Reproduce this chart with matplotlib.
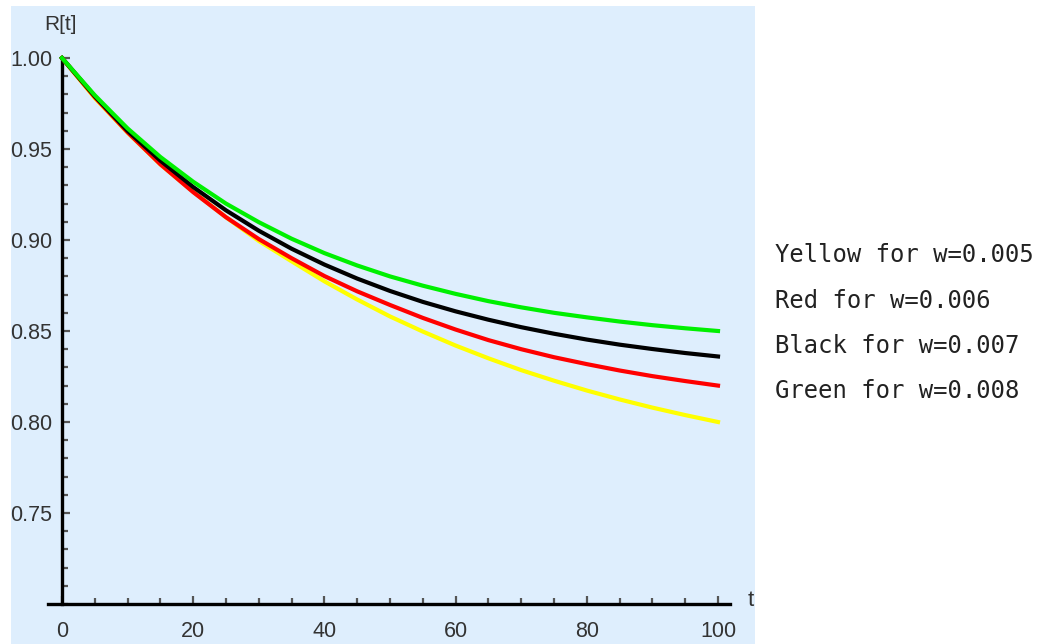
import matplotlib
matplotlib.use("Agg")
import matplotlib.pyplot as plt
import matplotlib.patches as mpatches
from matplotlib.ticker import MultipleLocator, FormatStrFormatter

# values, t = 0, 5, ..., 100
t_vals = [0, 5, 10, 15, 20, 25, 30, 35, 40, 45, 50, 55, 60, 65, 70, 75, 80, 85, 90, 95, 100]
yellow_r = [1.0, .9780, .9590, .9415, .9265, .9125, .8995, .8883, .8773, .8673, .8580, .8497,
            .8420, .8350, .8285, .8227, .8173, .8124, .8079, .8038, .8000]
red_r = [1.0, .9785, .9592, .9416, .9263, .9125, .9005, .8900, .8802, .8718, .8643, .8572,
         .8508, .8450, .8400, .8356, .8318, .8283, .8252, .8225, .8200]
black_r = [1.0, .9790, .9600, .9436, .9291, .9163, .9051, .8952, .8865, .8788, .8720, .8660,
           .8608, .8562, .8521, .8485, .8453, .8425, .8401, .8379, .8360]
green_r = [1.0, .9795, .9613, .9456, .9320, .9200, .9098, .9007, .8928, .8860, .8800, .8749,
           .8704, .8664, .8630, .8600, .8575, .8552, .8532, .8515, .8500]

legend_lines = ["Yellow for w=0.005", "Red for w=0.006", "Black for w=0.007", "Green for w=0.008"]
x_major = [0, 20, 40, 60, 80, 100]
y_major = [0.75, 0.80, 0.85, 0.90, 0.95, 1.00]

W, H = 1053, 644
fig = plt.figure(figsize=(W / 100, H / 100), dpi=100)
fig.patch.set_facecolor("white")

# light blue plot panel (its own background axes)
bg = fig.add_axes([0, 0, 1, 1], zorder=0)
bg.set_axis_off()
bg.add_patch(mpatches.Rectangle((11 / W, 0), (755 - 11) / W, (644 - 6) / H,
                                transform=bg.transAxes, facecolor="#DEEEFD",
                                edgecolor="none"))

ax = fig.add_axes([48 / W, (H - 604) / H, (730 - 48) / W, (604 - 58) / H], zorder=2)
ax.patch.set_alpha(0)

ax.plot(t_vals, yellow_r, color="#FFFF00", lw=3, clip_on=False, zorder=3)
ax.plot(t_vals, red_r, color="#FF0000", lw=3, clip_on=False, zorder=3)
ax.plot(t_vals, black_r, color="#000000", lw=3, clip_on=False, zorder=3)
ax.plot(t_vals, green_r, color="#00F000", lw=3, clip_on=False, zorder=3)

x0 = 0 - 14 / 6.56
x1 = 100 + 12 / 6.56
ax.set_xlim(x0, x1)
ax.set_ylim(0.70, 1.00)

ax.spines["top"].set_visible(False)
ax.spines["right"].set_visible(False)
ax.spines["left"].set_position(("data", 0))
ax.spines["left"].set_linewidth(2.4)
ax.spines["bottom"].set_linewidth(2.4)

ax.set_xticks(x_major)
ax.set_yticks(y_major)
ax.xaxis.set_minor_locator(MultipleLocator(5))
ax.yaxis.set_minor_locator(MultipleLocator(0.01))
ax.yaxis.set_major_formatter(FormatStrFormatter("%.2f"))

ax.tick_params(which="both", direction="in", color="#555555", width=1.6)
ax.tick_params(which="major", length=6)
ax.tick_params(which="minor", length=4)
ax.tick_params(axis="x", which="major", pad=12)
ax.tick_params(axis="y", which="major", pad=7)
for lab in ax.get_xticklabels() + ax.get_yticklabels():
    lab.set_fontfamily("Liberation Sans")
    lab.set_fontsize(15.5)
    lab.set_color("#333333")

fig.text(60 / W, 1 - 24 / H, "R[t]", ha="center", va="center",
         family="Liberation Sans", fontsize=15, color="#333333", zorder=3)
fig.text(751 / W, 1 - 600 / H, "t", ha="center", va="center",
         family="Liberation Sans", fontsize=16, color="#333333", zorder=3)

for i, s in enumerate(legend_lines):
    fig.text(775 / W, 1 - (255 + 45.5 * i) / H, s, ha="left", va="center",
             family="DejaVu Sans Mono", fontsize=17.2, color="#222222", zorder=3)

plt.savefig("out.png", dpi=100, facecolor="white")
